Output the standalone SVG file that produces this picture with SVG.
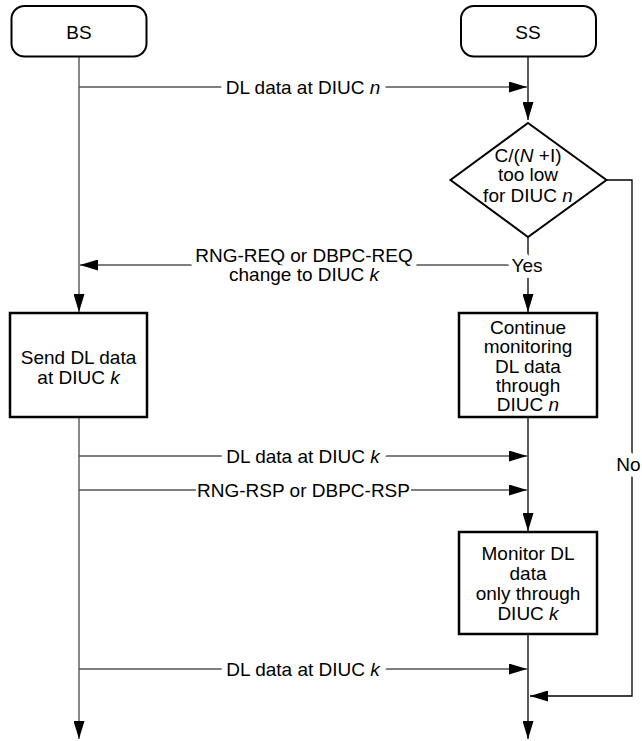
<svg xmlns="http://www.w3.org/2000/svg" width="642" height="741" viewBox="0 0 642 741">
<defs>
<style>
text{font-family:"Liberation Sans",Arial,Helvetica,sans-serif;font-size:19px;fill:#000;text-anchor:middle}
.halo{paint-order:stroke;stroke:#fff;stroke-width:12px;stroke-linejoin:round}
.msg{stroke:#555;stroke-width:1.4;fill:none}
.life{stroke:#000;stroke-width:1.3;fill:none}
.box{fill:#fff;stroke:#000;stroke-width:2.5}
.rbox{fill:#fff;stroke:#000;stroke-width:2}
tspan.i{font-style:italic}
</style>
<marker id="ah" markerUnits="userSpaceOnUse" markerWidth="18" markerHeight="11" refX="18" refY="5.5" orient="auto">
<path d="M0,0 L18,5.5 L0,11 z" fill="#000"/>
</marker>
</defs>
<rect width="642" height="741" fill="#fff"/>
<g id="connectors">
<line class="msg" x1="79" y1="57" x2="79" y2="312" marker-end="url(#ah)"/>
<line class="msg" x1="79" y1="417" x2="79" y2="739" marker-end="url(#ah)"/>
<line class="life" x1="528" y1="57" x2="528" y2="120" marker-end="url(#ah)"/>
<line class="life" x1="528" y1="237" x2="528" y2="312" marker-end="url(#ah)"/>
<line class="life" x1="528" y1="417" x2="528" y2="531" marker-end="url(#ah)"/>
<line class="life" x1="528" y1="634" x2="528" y2="739" marker-end="url(#ah)"/>
<line class="msg" x1="79" y1="87" x2="527" y2="87" marker-end="url(#ah)"/>
<line class="msg" x1="527" y1="265" x2="80" y2="265" marker-end="url(#ah)"/>
<line class="msg" x1="79" y1="456" x2="527" y2="456" marker-end="url(#ah)"/>
<line class="msg" x1="79" y1="490" x2="196" y2="490"/>
<line class="msg" x1="411" y1="490" x2="527" y2="490" marker-end="url(#ah)"/>
<line class="msg" x1="79" y1="669" x2="527" y2="669" marker-end="url(#ah)"/>
<polyline class="life" points="606.5,180 632,180 632,696 530,696" marker-end="url(#ah)"/>
<text class="halo" x="303" y="93.5">DL data at DIUC <tspan class="i">n</tspan></text>
<text class="halo" x="304" y="261.5">RNG-REQ or DBPC-REQ</text>
<text class="halo" x="304" y="280.5">change to DIUC <tspan class="i">k</tspan></text>
<text class="halo" x="527" y="272">Yes</text>
<text class="halo" x="303" y="462.5">DL data at DIUC <tspan class="i">k</tspan></text>
<text x="303.5" y="496.5">RNG-RSP or DBPC-RSP</text>
<text class="halo" x="303" y="675.5">DL data at DIUC <tspan class="i">k</tspan></text>
<text class="halo" x="628.5" y="471">No</text>
</g>
<g id="BS">
<rect class="rbox" x="11.5" y="6" width="135" height="50.5" rx="13"/>
<text x="79" y="38.5">BS</text>
</g>
<g id="SS">
<rect class="rbox" x="461" y="6" width="135" height="50.5" rx="13"/>
<text x="528" y="38.5">SS</text>
</g>
<g id="decision">
<polygon points="528,123 606.5,180 528,237 450.5,180" fill="#fff" stroke="#000" stroke-width="2"/>
<text x="528" y="162">C/(<tspan class="i">N</tspan> +I)</text>
<text x="528" y="181">too low</text>
<text x="528" y="201.5">for DIUC <tspan class="i">n</tspan></text>
</g>
<g id="send">
<rect class="box" x="10" y="313" width="137" height="104"/>
<text x="78.5" y="364">Send DL data</text>
<text x="78.5" y="383.5">at DIUC <tspan class="i">k</tspan></text>
</g>
<g id="continue">
<rect class="box" x="459" y="313" width="138" height="104"/>
<text x="528" y="333.5">Continue</text>
<text x="528" y="353">monitoring</text>
<text x="528" y="372.5">DL data</text>
<text x="528" y="392">through</text>
<text x="528" y="411">DIUC <tspan class="i">n</tspan></text>
</g>
<g id="monitor">
<rect class="box" x="459" y="532" width="138" height="102"/>
<text x="528" y="560">Monitor DL</text>
<text x="528" y="580">data</text>
<text x="528" y="600">only through</text>
<text x="528" y="620">DIUC <tspan class="i">k</tspan></text>
</g>
</svg>
